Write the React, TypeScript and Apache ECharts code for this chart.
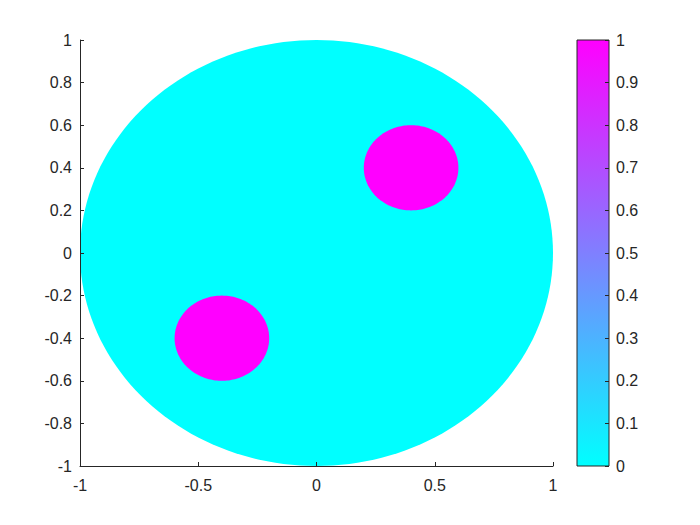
import React, { useEffect, useRef } from "react";
import * as echarts from "echarts";

// Disks: centre x, centre y, radius, value
const diskCx = [0, 0.4, -0.4];
const diskCy = [0, 0.4, -0.4];
const diskR = [1, 0.2, 0.2];
const diskValue = [0, 1, 1];

const xTicks = { min: -1, max: 1, step: 0.5 };
const yTicks = { min: -1, max: 1, step: 0.2 };
const cbTicks = { min: 0, max: 1, step: 0.1 };

// "cool" colormap end points
const colormap = ["#00ffff", "#ff00ff"];

const ink = "#262626";
const font = "Liberation Sans, Arial, Helvetica, sans-serif";

export default function App() {
  const ref = useRef<HTMLDivElement>(null);
  useEffect(() => {
    if (!ref.current) return;
    const chart = echarts.init(ref.current, null, { renderer: "svg" });
    const data = diskCx.map((cx, i) => [cx, diskCy[i], diskR[i], diskValue[i]]);
    const label = { color: ink, fontSize: 16, fontFamily: font };
    chart.setOption({
      animation: false,
      backgroundColor: "#ffffff",
      grid: [
        { left: 80, right: 147, top: 40, bottom: 59 },
        { left: 577, width: 32, top: 40, bottom: 59 },
      ],
      xAxis: [
        {
          gridIndex: 0,
          type: "value",
          min: xTicks.min,
          max: xTicks.max,
          interval: xTicks.step,
          axisLine: { show: true, onZero: false, lineStyle: { color: ink, width: 1 } },
          axisTick: { show: true, inside: true, length: 4, lineStyle: { color: ink } },
          axisLabel: { ...label, margin: 11 },
          splitLine: { show: false },
          z: 10,
        },
        {
          gridIndex: 1,
          type: "value",
          min: 0,
          max: 1,
          show: false,
        },
      ],
      yAxis: [
        {
          gridIndex: 0,
          type: "value",
          min: yTicks.min,
          max: yTicks.max,
          interval: yTicks.step,
          axisLine: { show: true, onZero: false, lineStyle: { color: ink, width: 1 } },
          axisTick: { show: true, inside: true, length: 4, lineStyle: { color: ink } },
          axisLabel: { ...label, margin: 8 },
          splitLine: { show: false },
          z: 10,
        },
        {
          gridIndex: 1,
          type: "value",
          position: "right",
          min: cbTicks.min,
          max: cbTicks.max,
          interval: cbTicks.step,
          axisLine: { show: false, onZero: false },
          axisTick: { show: true, inside: true, length: 4, lineStyle: { color: ink } },
          axisLabel: { ...label, margin: 7 },
          splitLine: { show: false },
          z: 10,
        },
      ],
      series: [
        {
          type: "custom",
          xAxisIndex: 0,
          yAxisIndex: 0,
          clip: false,
          data,
          renderItem: (params: any, api: any) => {
            const cx = api.value(0);
            const cy = api.value(1);
            const r = api.value(2);
            const v = api.value(3);
            const pts: number[][] = [];
            const n = 180;
            for (let k = 0; k < n; k++) {
              const t = (2 * Math.PI * k) / n;
              pts.push(api.coord([cx + r * Math.cos(t), cy + r * Math.sin(t)]));
            }
            const t = (v - cbTicks.min) / (cbTicks.max - cbTicks.min);
            const color = echarts.color.lerp(t, colormap);
            return {
              type: "polygon",
              shape: { points: pts },
              style: { fill: color, stroke: null },
            };
          },
          z: 2,
        },
        {
          type: "custom",
          xAxisIndex: 1,
          yAxisIndex: 1,
          data: [[0, 0, 1, 1]],
          renderItem: (params: any, api: any) => {
            const p0 = api.coord([api.value(0), api.value(3)]);
            const p1 = api.coord([api.value(2), api.value(1)]);
            return {
              type: "rect",
              shape: { x: p0[0], y: p0[1], width: p1[0] - p0[0], height: p1[1] - p0[1] },
              style: {
                fill: new echarts.graphic.LinearGradient(0, 1, 0, 0, [
                  { offset: 0, color: colormap[0] },
                  { offset: 1, color: colormap[1] },
                ]),
                stroke: ink,
                lineWidth: 1,
              },
            };
          },
          z: 1,
        },
      ],
    });
    return () => chart.dispose();
  }, []);
  return <div ref={ref} style={{ width: 700, height: 525, margin: -8 }} />;
}
